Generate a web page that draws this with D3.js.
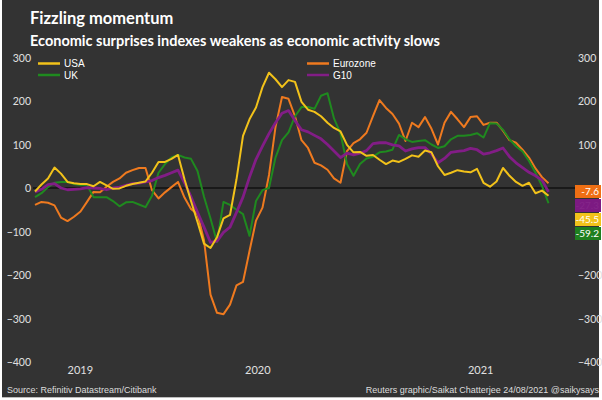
<!DOCTYPE html>
<html>
<head>
<meta charset="utf-8">
<script src="https://cdn.jsdelivr.net/npm/d3@7"></script>
<style>
  html, body { margin: 0; padding: 0; background: #ffffff; }
  svg { display: block; }
</style>
</head>
<body>
<div id="chart"></div>
<script>
// ---------- data ----------
const seriesNames = ["USA", "UK", "Eurozone", "G10"];
const seriesColors = ["#f2c21a", "#1f8a1f", "#ef7a1f", "#821d86"];

const usa = [-8, 8, 22, 47, 33, 14, 11, 9, 9, 4, 14, 6, -2, -1, 5, 9, 12, 15,
  35, 60, 60, 67, 76, 20, -30, -78, -128, -138, -113, -70, -62, 20, 120, 158,
  185, 232, 265, 250, 232, 248, 244, 198, 180, 175, 165, 150, 138, 130, 99, 82, 83,
  74, 76, 65, 55, 63, 60, 67, 75, 72, 86, 82, 50, 30, 35, 41,
  38, 36, 44, 12, 3, 15, 46, 28, 14, 5, 12, -12, -6, -18];

const eurozone = [-39, -32, -34, -40, -68, -76, -66, -54, -32, -9, -10, 3, 14, 22, 35, 41, 46, 46,
  -5, -24, -10, 2, 14, -22, -48, -60, -120, -245, -287, -290, -268, -224, -216, -145,
  -75, -45, 30, 140, 209, 205, 165, 110, 92, 58, 52, 42, 22, 12, 85, 103, 112,
  127, 165, 202, 184, 170, 148, 108, 150, 140, 163, 136, 100, 150, 175, 158,
  140, 163, 165, 145, 150, 150, 132, 110, 104, 88, 70, 45, 25, 11];

const uk = [-21, -12, 2, 12, 14, 14, 9, 7, 7, -21, -21, -21, -30, -42, -33, -32, -38, -44,
  -18, 35, 55, 70, 76, 70, 67, 39, -20, -70, -124, -32, -39, -50, -60, -110,
  -30, -5, 0, 70, 110, 128, 165, 186, 186, 182, 212, 218, 160, 125, 55, 28, 55,
  68, 72, 82, 84, 88, 122, 112, 106, 108, 110, 100, 92, 96, 112, 120,
  120, 122, 126, 116, 149, 148, 134, 112, 96, 84, 62, 35, 5, -35];

const g10 = [-9, -3, 8, 10, 0, -4, -3, -2, 1, 0, -1, -4, 0, 2, 6, 10, 11, 14,
  17, 24, 29, 35, 41, 12, -20, -56, -90, -125, -122, -102, -90, -56, -21, 25,
  66, 96, 125, 150, 172, 178, 155, 134, 129, 121, 113, 100, 85, 70, 80, 76, 80,
  86, 102, 104, 104, 99, 97, 85, 90, 93, 93, 78, 58, 68, 82, 84,
  86, 91, 88, 78, 81, 86, 92, 72, 58, 47, 36, 28, 18, -9];

const yTicksLeft = [300, 200, 100, 0, -100, -200, -300, -400];
const yTicksRight = [300, 200, 100, -200, -300, -400];
const yearLabels = ["2019", "2020", "2021"];
const yearIndex = [6.9, 34.2, 68.5];

const lastLabels = ["-7.6", "-27.3", "-45.5", "-59.2"];
const lastColors = ["#ef6f14", "#7c1a82", "#f2c21a", "#1f7f1f"];
const lastTextColors = ["#ffffff", "#85268a", "#ffffff", "#ffffff"];

// ---------- layout ----------
const W = 602, H = 400;
const svg = d3.select("#chart").append("svg").attr("width", W).attr("height", H);

svg.append("rect").attr("x", 2).attr("y", 0).attr("width", 597).attr("height", 397)
  .attr("fill", "#333333");
svg.append("line").attr("x1", 2).attr("x2", 599).attr("y1", 397.5).attr("y2", 397.5)
  .attr("stroke", "#bdbdbd").attr("stroke-width", 1);

const n = usa.length;
const x = d3.scaleLinear().domain([0, n - 1]).range([35, 548.5]);
const y = d3.scaleLinear().domain([-400, 300]).range([362, 57.5]);

// Title
svg.append("text").attr("x", 30).attr("y", 24)
  .attr("font-family", "Lato, 'Open Sans', sans-serif").attr("font-weight", "bold")
  .attr("font-size", 16.5).attr("fill", "#ffffff").text("Fizzling momentum");
svg.append("text").attr("x", 30).attr("y", 46)
  .attr("font-family", "Lato, 'Open Sans', sans-serif").attr("font-weight", "bold")
  .attr("font-size", 14.5).attr("fill", "#ffffff")
  .text("Economic surprises indexes weakens as economic activity slows");

// Axes
const axisFont = "Lato, 'Open Sans', sans-serif";
const leftAxis = d3.axisLeft(y).tickValues(yTicksLeft).tickSize(0).tickPadding(0)
  .tickFormat(d3.format("d"));
const gL = svg.append("g").attr("transform", "translate(31,0)").call(leftAxis);
gL.select(".domain").remove();
gL.selectAll("text").attr("font-family", axisFont).attr("font-size", 10.5)
  .attr("fill", "#e0e0e0").attr("dy", "0.35em");

const rightAxis = d3.axisRight(y).tickValues(yTicksRight).tickSize(0).tickPadding(0)
  .tickFormat(d3.format("d"));
const gR = svg.append("g").attr("transform", "translate(578,0)").call(rightAxis);
gR.select(".domain").remove();
gR.selectAll("text").attr("font-family", axisFont).attr("font-size", 10.5)
  .attr("fill", "#e0e0e0").attr("dy", "0.35em");

const bottomAxis = d3.axisBottom(x).tickValues(yearIndex).tickSize(0).tickPadding(0)
  .tickFormat((d, i) => yearLabels[i]);
const gB = svg.append("g").attr("transform", "translate(0,366)").call(bottomAxis);
gB.select(".domain").remove();
gB.selectAll("text").attr("font-family", axisFont).attr("font-size", 11)
  .attr("fill", "#e0e0e0");

// Zero line
svg.append("line").attr("x1", 33).attr("x2", 576).attr("y1", y(0)).attr("y2", y(0))
  .attr("stroke", "#000000").attr("stroke-width", 1.2);

// Lines
const line = d3.line().x((d, i) => x(i)).y(d => y(d)).curve(d3.curveLinear);
const drawOrder = [
  { data: eurozone, color: seriesColors[2], w: 2 },
  { data: uk, color: seriesColors[1], w: 2 },
  { data: g10, color: seriesColors[3], w: 2.8 },
  { data: usa, color: seriesColors[0], w: 2 }
];
drawOrder.forEach(s => {
  svg.append("path").datum(s.data).attr("d", line).attr("fill", "none")
    .attr("stroke", s.color).attr("stroke-width", s.w)
    .attr("stroke-linejoin", "round");
});

// Legend
const legendFont = "'Liberation Sans', Arial, sans-serif";
const legendItems = [
  { name: seriesNames[0], color: seriesColors[0], lx: 38, ly: 63.5 },
  { name: seriesNames[1], color: seriesColors[1], lx: 38, ly: 75 },
  { name: seriesNames[2], color: seriesColors[2], lx: 307, ly: 63.5 },
  { name: seriesNames[3], color: seriesColors[3], lx: 307, ly: 75 }
];
legendItems.forEach(it => {
  svg.append("line").attr("x1", it.lx).attr("x2", it.lx + 22).attr("y1", it.ly).attr("y2", it.ly)
    .attr("stroke", it.color).attr("stroke-width", 2.5);
  svg.append("text").attr("x", it.lx + 26).attr("y", it.ly).attr("dy", "0.36em")
    .attr("font-family", legendFont).attr("font-size", 10).attr("fill", "#ffffff")
    .text(it.name);
});

// End-value boxes
lastLabels.forEach((t, i) => {
  const by = 185 + i * 14;
  svg.append("rect").attr("x", 575).attr("y", by).attr("width", 26).attr("height", 13)
    .attr("fill", lastColors[i]);
  svg.append("text").attr("x", 599).attr("y", by + 6.5).attr("dy", "0.36em")
    .attr("text-anchor", "end").attr("font-family", axisFont).attr("font-size", 10)
    .attr("fill", lastTextColors[i]).text(t);
});

// Footer
svg.append("text").attr("x", 7).attr("y", 393)
  .attr("font-family", legendFont).attr("font-size", 9).attr("fill", "#dddddd")
  .text("Source: Refinitiv Datastream/Citibank");
svg.append("text").attr("x", 599).attr("y", 393).attr("text-anchor", "end")
  .attr("font-family", legendFont).attr("font-size", 9).attr("fill", "#dddddd")
  .text("Reuters graphic/Saikat Chatterjee 24/08/2021 @saikysays");
</script>
</body>
</html>
